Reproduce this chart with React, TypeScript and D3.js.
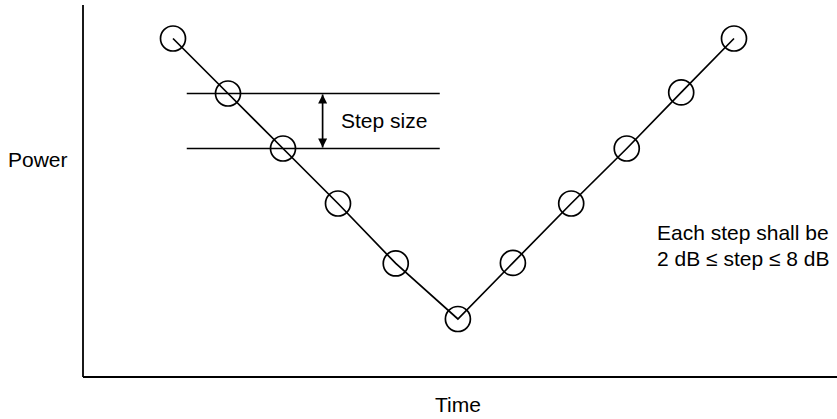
import React from "react";
import * as d3 from "d3";

const times = [1, 2, 3, 4, 5.05, 6.18, 7.18, 8.24, 9.25, 10.24, 11.2];
const powers = [51, 41, 31, 21, 10.1, 0, 10.2, 21, 31, 41.2, 51];
const stepLevels = [41, 31];
const stepSpan = [1.25, 5.85];
const arrowTime = 3.72;
const annotation = ["Each step shall be", "2 dB \u2264 step \u2264 8 dB"];

const W = 837;
const H = 419;
const axisX = 83;
const axisY = 377;
const topY = 5;

export default function App() {
  const x = d3.scaleLinear().domain([0, 11]).range([118, 118 + 55 * 11]);
  const y = d3.scaleLinear().domain([0, 51]).range([319, 319 - 5.5 * 51]);
  const pts = times.map((t, i) => [x(t), y(powers[i])] as [number, number]);
  const line = d3.line()(pts) || "";
  const font = "'Liberation Sans', Arial, sans-serif";
  const ax = x(arrowTime);
  const y1 = y(stepLevels[0]);
  const y2 = y(stepLevels[1]);
  return (
    <svg
      width={W}
      height={H}
      style={{ position: "absolute", left: 0, top: 0, background: "#fff" }}
      fontFamily={font}
    >
      <defs>
        <marker id="ah" viewBox="0 0 10 10" refX="10" refY="5" markerWidth="10" markerHeight="9" orient="auto-start-reverse" markerUnits="userSpaceOnUse">
          <path d="M0,0 L10,5 L0,10 z" fill="#000" />
        </marker>
      </defs>
      <line x1={axisX} y1={topY} x2={axisX} y2={axisY} stroke="#000" strokeWidth={1.8} />
      <line x1={axisX} y1={axisY} x2={W} y2={axisY} stroke="#000" strokeWidth={1.8} />
      {stepLevels.map((lv, i) => (
        <line key={i} x1={x(stepSpan[0])} x2={x(stepSpan[1])} y1={y(lv)} y2={y(lv)} stroke="#000" strokeWidth={1.7} />
      ))}
      <line x1={ax} x2={ax} y1={y1 + 1} y2={y2 - 1} stroke="#000" strokeWidth={1.7} markerStart="url(#ah)" markerEnd="url(#ah)" />
      <text x={341} y={128} fontSize={21}>Step size</text>
      <path d={line} fill="none" stroke="#000" strokeWidth={1.7} />
      {pts.map((p, i) => (
        <circle key={i} cx={p[0]} cy={p[1]} r={12.5} fill="none" stroke="#000" strokeWidth={1.7} />
      ))}
      <text x={8} y={167} fontSize={21}>Power</text>
      <text x={x(6.18)} y={412} fontSize={21} textAnchor="middle">Time</text>
      {annotation.map((s, i) => (
        <text key={i} x={657} y={240 + i * 26} fontSize={21}>{s}</text>
      ))}
    </svg>
  );
}
